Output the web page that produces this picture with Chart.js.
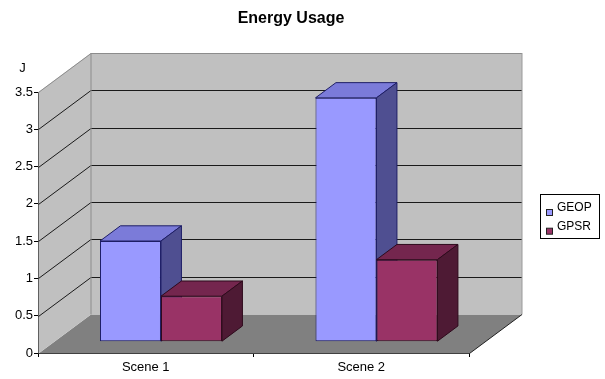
<!DOCTYPE html>
<html>
<head>
<meta charset="utf-8">
<script src="https://cdn.jsdelivr.net/npm/chart.js@4/dist/chart.umd.min.js"></script>
<style>
  html, body { margin: 0; padding: 0; background: #fff; }
  #wrap { width: 605px; height: 379px; position: relative; }
</style>
</head>
<body>
<div id="wrap"><canvas id="c"></canvas></div>
<script>
// ---- data ----
const categories = ['Scene 1', 'Scene 2'];
const seriesNames = ['GEOP', 'GPSR'];
const geopValues = [1.35, 3.27];
const gpsrValues = [0.61, 1.10];
const yMax = 3.5;
const yTickStep = 0.5;
const unitLabel = 'J';
const chartTitle = 'Energy Usage';

// ---- 3D box geometry (oblique projection) ----
const DEPTH = { x: 52.5, y: -39 };   // front plane -> back wall offset
const BAR_FRONT = 0.29;              // bars' front faces sit this far into the box
const BAR_DEPTH = 0.39;              // depth of each bar

const palette = [
  { front: '#9999ff', top: '#7b7bd9', side: '#4f4f91', edge: '#1e1e66' },
  { front: '#993366', top: '#74264e', side: '#4e1a34', edge: '#2e0a1c' }
];

const FONT = 'Arial, "Liberation Sans", sans-serif';

function poly(ctx, pts) {
  ctx.beginPath();
  ctx.moveTo(pts[0][0], pts[0][1]);
  for (let i = 1; i < pts.length; i++) ctx.lineTo(pts[i][0], pts[i][1]);
  ctx.closePath();
}

function line(ctx, x1, y1, x2, y2, color) {
  ctx.strokeStyle = color;
  ctx.beginPath();
  ctx.moveTo(x1, y1);
  ctx.lineTo(x2, y2);
  ctx.stroke();
}

// walls, floor, gridlines, and the extruded bars
const box3d = {
  id: 'box3d',
  beforeDatasetsDraw(chart) {
    const { ctx, chartArea: a, scales: { y } } = chart;
    const dx = DEPTH.x, dy = DEPTH.y;
    const L = Math.round(a.left) + 0.5, R = Math.round(a.right) + 0.5;
    const T = a.top, B = Math.round(a.bottom) + 0.5;
    ctx.save();
    ctx.lineWidth = 1;
    // floor
    ctx.fillStyle = '#808080';
    poly(ctx, [[L, B], [L + dx, B + dy], [R + dx, B + dy], [R, B]]);
    ctx.fill();
    // back wall
    ctx.fillStyle = '#c0c0c0';
    poly(ctx, [[L + dx, T + dy], [R + dx, T + dy], [R + dx, B + dy], [L + dx, B + dy]]);
    ctx.fill();
    // side wall
    poly(ctx, [[L, T], [L + dx, T + dy], [L + dx, B + dy], [L, B]]);
    ctx.fill();
    // gridlines on side wall and back wall
    y.ticks.forEach(t => {
      if (t.value === 0) return;
      const py = Math.round(y.getPixelForValue(t.value)) + 0.5;
      const col = t.value >= yMax ? '#8c8c8c' : '#1a1a1a';
      line(ctx, L, py, L + dx, py + dy, col);
      line(ctx, L + dx, py + dy, R + dx, py + dy, col);
    });
    // wall edges
    line(ctx, L + dx, T + dy, L + dx, B + dy, '#8c8c8c');
    line(ctx, R + dx, T + dy, R + dx, B + dy, '#9a9a9a');
    // floor right edge
    line(ctx, R, B, R + dx, B + dy, '#202020');
    ctx.restore();
  },
  // the library's own bar elements are drawn below, one at a time, front to back
  beforeDatasetDraw() { return false; },
  afterDatasetsDraw(chart) {
    const ctx = chart.ctx;
    const ox = DEPTH.x * BAR_FRONT, oy = DEPTH.y * BAR_FRONT;
    const bx = DEPTH.x * BAR_DEPTH, by = DEPTH.y * BAR_DEPTH;
    const metas = chart.data.datasets.map((d, i) => chart.getDatasetMeta(i));
    for (let i = 0; i < categories.length; i++) {
      for (let d = 0; d < metas.length; d++) {
        const el = metas[d].data[i];
        const c = palette[d];
        const { x, y, base, width } = el.getProps(['x', 'y', 'base', 'width'], true);
        const l = x - width / 2, r = x + width / 2;
        ctx.save();
        ctx.translate(ox, oy);
        el.draw(ctx);
        ctx.lineWidth = 1;
        ctx.strokeStyle = c.edge;
        // top face
        ctx.fillStyle = c.top;
        poly(ctx, [[l, y], [l + bx, y + by], [r + bx, y + by], [r, y]]);
        ctx.fill(); ctx.stroke();
        // right side face
        ctx.fillStyle = c.side;
        poly(ctx, [[r, y], [r + bx, y + by], [r + bx, base + by], [r, base]]);
        ctx.fill(); ctx.stroke();
        ctx.restore();
      }
    }
  },
  afterDraw(chart) {
    const { ctx } = chart;
    ctx.save();
    // title
    ctx.fillStyle = '#000';
    ctx.textAlign = 'center';
    ctx.textBaseline = 'middle';
    ctx.font = 'bold 16px ' + FONT;
    ctx.fillText(chartTitle, 291, 19);
    // unit label above the value axis
    ctx.font = '13px ' + FONT;
    ctx.fillText(unitLabel, 22.5, 68);
    // legend
    const lx = 540.5, ly = 194.5, lw = 59, lh = 44;
    ctx.fillStyle = '#fff';
    ctx.fillRect(lx, ly, lw, lh);
    ctx.strokeStyle = '#000';
    ctx.lineWidth = 1;
    ctx.strokeRect(lx, ly, lw, lh);
    ctx.textAlign = 'left';
    ctx.font = '12px ' + FONT;
    chart.data.datasets.forEach((ds, i) => {
      const rowY = 208 + i * 18.7;
      ctx.fillStyle = ds.backgroundColor;
      ctx.fillRect(546.5, rowY + 1.5, 6, 6);
      ctx.strokeStyle = '#222';
      ctx.strokeRect(546.5, rowY + 1.5, 6, 6);
      ctx.fillStyle = '#000';
      ctx.fillText(ds.label, 557, rowY);
    });
    ctx.restore();
  }
};

new Chart(document.getElementById('c'), {
  type: 'bar',
  data: {
    labels: categories,
    datasets: [
      { label: seriesNames[0], data: geopValues, backgroundColor: palette[0].front,
        borderColor: palette[0].edge, borderWidth: 1, borderSkipped: false },
      { label: seriesNames[1], data: gpsrValues, backgroundColor: palette[1].front,
        borderColor: palette[1].edge, borderWidth: 1, borderSkipped: false }
    ]
  },
  options: {
    responsive: true,
    maintainAspectRatio: false,
    animation: false,
    events: [],
    layout: { padding: { left: 0, right: 136, top: 92, bottom: 0 } },
    datasets: { bar: { categoryPercentage: 0.566, barPercentage: 1 } },
    plugins: {
      legend: { display: false },
      title: { display: false },
      tooltip: { enabled: false }
    },
    scales: {
      x: {
        ticks: { color: '#000', font: { family: FONT, size: 13 }, padding: 3 },
        grid: { offset: true, drawOnChartArea: false, tickLength: 4, color: '#000' },
        border: { color: '#000' },
        afterFit(s) { s.height = 26; }
      },
      y: {
        min: 0,
        max: yMax,
        ticks: { stepSize: yTickStep, color: '#000', font: { family: FONT, size: 13 }, padding: 1,
                 callback: v => String(+v) },
        grid: { drawOnChartArea: false, tickLength: 4, color: '#000' },
        border: { color: '#000' },
        afterFit(s) { s.width = 38; }
      }
    }
  },
  plugins: [box3d]
});
</script>
</body>
</html>
